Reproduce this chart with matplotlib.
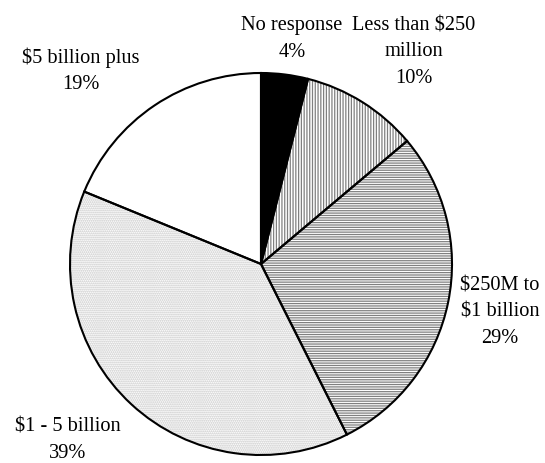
import numpy as np
import matplotlib
matplotlib.use("Agg")
import matplotlib.pyplot as plt

plt.rcParams['font.family'] = ['Liberation Serif', 'DejaVu Serif']
plt.rcParams['hatch.linewidth'] = 0.9

labels = ["No response\n4%", "Less than $250\nmillion\n10%", "$250M to\n$1 billion\n29%",
          "$1 - 5 billion\n39%", "$5 billion plus\n19%"]
values = [4, 10, 29, 39, 19]
colors = ["black", "white", "white", "white", "white"]
hatches = ["", "||||||", "-------", "........", ""]
hatch_colors = ["black", "#808080", "#808080", "#c4c4c4", "white"]
# label anchor positions in pixels (x, y from top)
label_pos = [(292, 39), (414, 52), (500, 312), (68, 440), (81, 71)]

W, H = 545, 464
center = (261, H - 265)
R = 191
fig = plt.figure(figsize=(W / 100, H / 100), dpi=100)
ax = fig.add_axes([0, 0, 1, 1])

# filled + hatched layer (hatch takes the edge colour)
fill, _ = ax.pie(values, startangle=90, counterclock=False, colors=colors,
                 center=center, radius=R, frame=True,
                 wedgeprops=dict(linewidth=0))
for w, h, hc in zip(fill, hatches, hatch_colors):
    w.set_hatch(h)
    w.set_edgecolor(hc)
    w.set_linewidth(0)

# black outlines on top
ax.pie(values, startangle=90, counterclock=False, center=center, radius=R, frame=True,
       wedgeprops=dict(facecolor='none', edgecolor='black', linewidth=1.5))

ax.set_xlim(0, W)
ax.set_ylim(0, H)
ax.set_aspect('equal')
ax.axis('off')

for lab, (px, py) in zip(labels, label_pos):
    ax.text(px, H - py, lab, ha='center', va='center', fontsize=14.7, linespacing=1.52)

fig.savefig("out.png", dpi=100)
